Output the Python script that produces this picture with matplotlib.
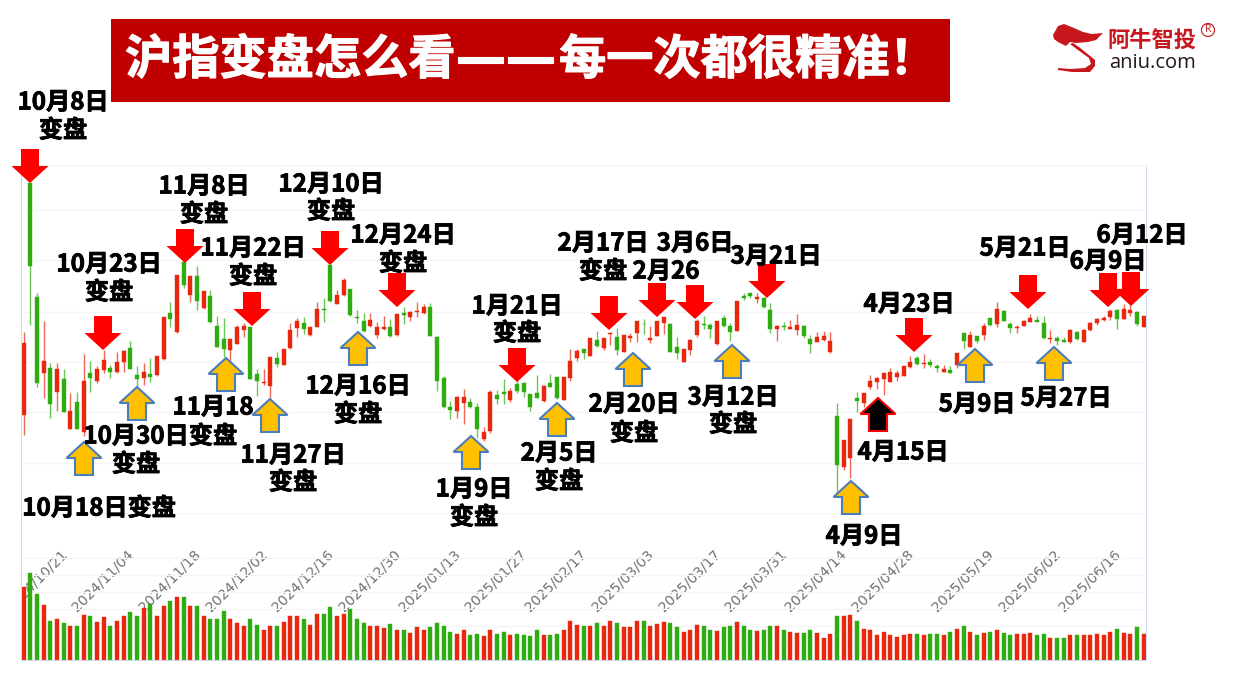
import matplotlib
matplotlib.use("Agg")
import matplotlib.pyplot as plt
import matplotlib.patheffects as pe
from matplotlib.patches import Polygon, Rectangle, Circle
from matplotlib.transforms import Bbox, ScaledTranslation

plt.rcParams['font.family'] = ['Noto Sans CJK SC', 'DejaVu Sans']

# ---------- data (index-like price units) ----------
opens = [3255,3952,3608,3382,3397,3323,3362,3214,3295,3205,3380,3358,3390,3396,3383,3415,3456,3374,3366,3378,
3376,3423,3560,3503,3715,3614,3672,3576,3613,3522,3484,3450,3469,3510,3519,3377,3350,3342,3426,3405,
3456,3515,3531,3494,3520,3572,3705,3589,3615,3632,3550,3538,3522,3496,3513,3518,3495,3561,3550,3563,
3560,3578,3488,3365,3278,3266,3292,3295,3280,3184,3208,3315,3323,3300,3347,3350,3317,3320,3297,3350,
3369,3301,3365,3426,3452,3433,3480,3457,3498,3488,3445,3485,3500,3529,3480,3492,3532,3528,3458,3415,
3450,3494,3528,3525,3467,3546,3523,3507,3612,3620,3602,3605,3570,3513,3522,3513,3510,3523,3482,3475,
3480,3443,3253,3100,3125,3305,3290,3340,3354,3363,3355,3368,3373,3398,3427,3407,3414,3402,3385,3389,
3405,3500,3459,3492,3495,3545,3527,3567,3528,3515,3523,3535,3539,3532,3484,3486,3479,3474,3505,3475,
3510,3532,3541,3550,3570,3544,3562,3564,3520]
closes = [3472,3703,3352,3417,3288,3392,3264,3268,3214,3357,3366,3394,3420,3384,3414,3448,3393,3363,3384,3370,
3432,3548,3542,3675,3646,3672,3598,3628,3534,3460,3452,3483,3518,3521,3363,3358,3354,3429,3409,3454,
3510,3536,3512,3518,3572,3569,3598,3615,3660,3555,3545,3506,3541,3520,3518,3492,3558,3555,3564,3568,
3578,3492,3357,3278,3271,3308,3308,3279,3214,3203,3325,3303,3317,3327,3328,3325,3280,3307,3342,3339,
3306,3370,3418,3448,3440,3485,3463,3487,3500,3450,3494,3492,3536,3527,3485,3536,3549,3445,3441,3452,
3479,3538,3525,3513,3536,3522,3503,3596,3606,3612,3608,3580,3512,3521,3519,3518,3525,3493,3468,3488,
3492,3478,3105,3180,3243,3297,3320,3357,3365,3380,3385,3380,3402,3415,3408,3412,3404,3396,3394,3381,
3440,3478,3494,3478,3522,3526,3573,3536,3516,3520,3538,3547,3535,3485,3486,3476,3475,3511,3484,3509,
3531,3543,3545,3566,3542,3572,3570,3528,3551]
highs = [3505,3952,3622,3537,3412,3410,3392,3320,3325,3438,3417,3402,3450,3405,3445,3450,3476,3402,3410,3425,
3432,3548,3595,3675,3715,3672,3702,3628,3630,3553,3545,3483,3525,3530,3519,3392,3392,3429,3445,3454,
3530,3545,3548,3518,3595,3607,3705,3630,3665,3632,3570,3560,3560,3535,3553,3542,3558,3580,3568,3595,
3588,3590,3492,3372,3298,3312,3332,3305,3290,3220,3330,3330,3362,3335,3365,3352,3318,3375,3345,3378,
3369,3370,3452,3454,3452,3485,3507,3487,3503,3515,3494,3500,3538,3543,3522,3536,3549,3530,3488,3454,
3482,3542,3553,3532,3536,3556,3530,3598,3622,3622,3620,3608,3592,3525,3535,3540,3558,3525,3495,3504,
3508,3504,3290,3180,3243,3323,3320,3375,3368,3380,3395,3390,3402,3433,3432,3438,3422,3408,3406,3402,
3440,3500,3506,3492,3530,3545,3593,3570,3535,3525,3540,3558,3552,3552,3510,3492,3489,3513,3508,3514,
3534,3545,3552,3572,3572,3588,3585,3568,3552]
lows = [3195,3525,3338,3307,3247,3268,3264,3214,3214,3192,3323,3350,3382,3366,3382,3385,3393,3342,3344,3353,
3372,3420,3520,3502,3635,3595,3570,3574,3532,3460,3430,3410,3467,3488,3363,3313,3345,3305,3400,3405,
3452,3490,3498,3493,3518,3535,3593,3589,3612,3553,3532,3505,3518,3487,3510,3490,3493,3528,3537,3550,
3558,3492,3328,3275,3242,3245,3227,3277,3185,3178,3202,3288,3288,3293,3320,3310,3268,3305,3294,3339,
3304,3300,3358,3418,3423,3432,3460,3450,3466,3436,3444,3475,3475,3498,3472,3492,3498,3443,3422,3413,
3434,3490,3512,3486,3466,3520,3477,3507,3600,3606,3590,3575,3500,3477,3510,3512,3495,3485,3442,3474,
3478,3442,3020,3090,3065,3265,3280,3332,3332,3315,3354,3357,3372,3395,3406,3395,3398,3384,3383,3380,
3395,3452,3458,3470,3480,3522,3520,3536,3502,3502,3522,3534,3533,3484,3470,3465,3473,3472,3480,3474,
3508,3524,3538,3540,3513,3543,3552,3522,3518]
volumes = [220,262,198,165,118,123,111,101,103,135,131,114,128,101,116,133,143,131,155,167,
131,163,177,190,190,163,163,133,123,123,148,123,111,103,123,106,91,101,101,114,
131,131,123,106,138,138,158,133,138,153,123,111,101,101,96,108,91,91,81,98,
89,98,111,101,84,79,91,74,79,71,91,79,84,74,79,74,71,89,76,76,
79,89,118,106,101,101,111,103,116,111,98,98,118,118,103,108,113,111,98,84,
89,106,101,89,86,98,101,114,101,89,86,89,101,101,89,84,81,81,91,81,
66,79,131,131,136,116,93,91,76,84,74,69,74,79,79,76,79,79,76,84,
93,101,84,76,81,84,91,81,76,79,79,81,76,79,66,66,66,76,74,76,
74,79,74,84,93,81,79,98,79]
tick_positions = [9,19,29,39,49,59,68,78,87,97,107,117,126,136,148,158,167]
tick_labels = ['2024/10/21','2024/11/04','2024/11/18','2024/12/02','2024/12/16','2024/12/30',
               '2025/01/13','2025/01/27','2025/02/17','2025/03/03','2025/03/17','2025/03/31',
               '2025/04/14','2025/04/28','2025/05/19','2025/06/02','2025/06/16']

labels = [
 ('10月8日',63,100),('变盘',63,128),('10月23日',109,262),('变盘',109,290),('11月8日',204,184),('变盘',204,212),
 ('11月22日',253,246),('变盘',253,274),('12月10日',331,182),('变盘',331,209),('12月24日',403,233),('变盘',403,261),
 ('1月21日',517,304),('变盘',517,331),('2月17日',603,241),('变盘',603,269),('2月26',666,269),('3月6日',695,241),
 ('3月21日',776,254),('4月23日',909,302),('5月21日',1025,246),('6月9日',1108,259),('6月12日',1142,233),
 ('10月30日',136,434),('变盘',136,462),('10月18日变盘',99,506),('11月18',213,405),('变盘',213,434),
 ('11月27日',293,453),('变盘',293,480),('12月16日',358,384),('变盘',358,412),('1月9日',474,487),('变盘',474,515),
 ('2月5日',559,451),('变盘',559,479),('2月20日',634,402),('变盘',634,431),('3月12日',733,395),('变盘',733,422),
 ('4月15日',903,450),('4月9日',864,534),('5月9日',977,402),('5月27日',1066,396)]
down_arrows = [(30,183),(103,350),(185,263),(252,326),(330,265),(397,307),(517,382),(609,330),(657,317),
               (695,319),(767,298),(914,352),(1028,309),(1108,307),(1131,306)]
up_arrows = [(84,442),(137,387),(226,358),(270,399),(358,332),(471,436),(557,403),(633,353),(732,345),
             (851,481),(975,349),(1054,347)]
black_arrows = [(878,398)]

# ---------- layout ----------
W, H = 1244, 675
RED, GREEN = '#E8280E', '#2EAD12'
AXIS, GRID = '#CFDBEE', '#F5F5F8'
fig = plt.figure(figsize=(W/100, H/100), dpi=100, facecolor='white')

def px_axes(l, t, r, b, **kw):
    return fig.add_axes([l/W, 1-b/H, (r-l)/W, (b-t)/H], **kw)

n = len(opens)
xs = list(range(n))
cols = [RED if c >= o else GREEN for o, c in zip(opens, closes)]
xlim = (-0.405, 168.33)

ax = px_axes(21, 165, 1146, 548, zorder=1)
ax.set_xlim(*xlim)
ax.set_ylim(2856, 4005)
ax.set_axisbelow(True)
ax.vlines(xs, lows, highs, colors=cols, linewidth=1.0, alpha=0.7)
ax.bar(xs, [abs(c-o) for o, c in zip(opens, closes)], bottom=[min(o, c) for o, c in zip(opens, closes)],
       width=0.6, color=cols, edgecolor=cols, linewidth=0.3)
ax.set_yticks([3870,3720,3564,3414,3264,3111,2961])
ax.set_yticklabels([])
ax.grid(axis='y', color=GRID, linewidth=1)
ax.set_xticks(tick_positions)
ax.set_xticklabels(tick_labels, rotation=45, ha='right', va='top', rotation_mode='anchor',
                   family='DejaVu Sans', fontsize=10.2, color='#707070')
ax.tick_params(length=0, pad=2)
shift = ScaledTranslation(-24/100, 4/100, fig.dpi_scale_trans)
clip = Bbox.from_extents(21, 0, W, H)
for lab in ax.get_xticklabels():
    lab.set_transform(lab.get_transform() + shift)
    lab.set_clip_box(clip)
    lab.set_clip_on(True)
for s, sp in ax.spines.items():
    sp.set_color(AXIS)
ax.spines['bottom'].set_visible(False)
ax.spines['top'].set_color(GRID)

vx = px_axes(21, 548, 1146, 660, zorder=2)
vx.patch.set_alpha(0)
vx.set_xlim(*xlim)
vx.set_ylim(0, 336)
vx.set_axisbelow(True)
vx.bar(xs, volumes, width=0.6, color=cols, edgecolor=cols, linewidth=0.3)
vx.set_yticks([306,255,204,153,102,51])
vx.set_yticklabels([])
vx.set_xticks([])
vx.grid(axis='y', color=GRID, linewidth=1)
vx.tick_params(length=0)
for s, sp in vx.spines.items():
    sp.set_color(AXIS)
vx.spines['top'].set_visible(False)

# ---------- overlay: title, logo, arrows, labels ----------
ov = fig.add_axes([0, 0, 1, 1], zorder=5)
ov.set_xlim(0, W)
ov.set_ylim(H, 0)
ov.axis('off')

ov.add_patch(Rectangle((111, 19), 839, 83, facecolor='#C00000', edgecolor='none'))
bold_edge = [pe.withStroke(linewidth=0.8, foreground='white')]
ov.text(125, 60, '沪指变盘怎么看', color='white', fontsize=34, fontweight='bold', va='center', ha='left', path_effects=bold_edge)
ov.text(481, 60, '—', color='white', fontsize=40, fontweight='bold', va='center', ha='center', path_effects=bold_edge)
ov.text(531, 60, '—', color='white', fontsize=40, fontweight='bold', va='center', ha='center', path_effects=bold_edge)
ov.text(559, 60, '每一次都很精准！', color='white', fontsize=34, fontweight='bold', va='center', ha='left', path_effects=bold_edge)

def arrow_down(x, y):
    pts = [(x, y), (x-18.5, y-17), (x-9, y-17), (x-9, y-34), (x+9, y-34), (x+9, y-17), (x+18.5, y-17)]
    ov.add_patch(Polygon(pts, closed=True, facecolor='#FF0000', edgecolor='none'))

def arrow_up(x, y, face, edge):
    pts = [(x, y), (x+17.5, y+16), (x+9, y+16), (x+9, y+33), (x-9, y+33), (x-9, y+16), (x-17.5, y+16)]
    ov.add_patch(Polygon(pts, closed=True, facecolor=face, edgecolor=edge, linewidth=1.5))

for x, y in down_arrows:
    arrow_down(x, y)
for x, y in up_arrows:
    arrow_up(x, y, '#FFC000', '#4A7EBB')
for x, y in black_arrows:
    arrow_up(x, y, '#000000', '#FF0000')
stroke = [pe.withStroke(linewidth=0.6, foreground='black')]
for t, x, y in labels:
    ov.text(x, y+2.5, t, fontsize=17.4, fontweight='bold', color='black', ha='center', va='center', path_effects=stroke)

# logo
blob = [(1053,35),(1058,26),(1064,24),(1074,28),(1083,32),(1092,34),(1103,33),(1096,40),(1088,42),(1076,43),
        (1070,42),(1066,46),(1058,42),(1054,39)]
tail = [(1073,43),(1079,47),(1095,60),(1095,66),(1090,72),(1072,72),(1058,70),(1058,68),(1070,69),(1085,68),
        (1091,64),(1089,58),(1078,50),(1070,44)]
ov.add_patch(Polygon(blob, closed=True, facecolor='#C8161D', edgecolor='none'))
ov.add_patch(Polygon(tail, closed=True, facecolor='#C8161D', edgecolor='none'))
ov.text(1152, 41, '阿牛智投', fontsize=16, fontweight='bold', color='#C8161D', ha='center', va='center')
ov.text(1153, 63, 'aniu.com', fontsize=14.5, color='#231815', ha='center', va='center', family=['Open Sans', 'DejaVu Sans'])
ov.add_patch(Circle((1208, 30), 6.5, facecolor='none', edgecolor='#C8161D', linewidth=0.8))
ov.text(1208, 30, 'R', fontsize=7.5, color='#C8161D', ha='center', va='center', family=['Open Sans', 'DejaVu Sans'])

fig.savefig('out.png', dpi=100, facecolor='white')
